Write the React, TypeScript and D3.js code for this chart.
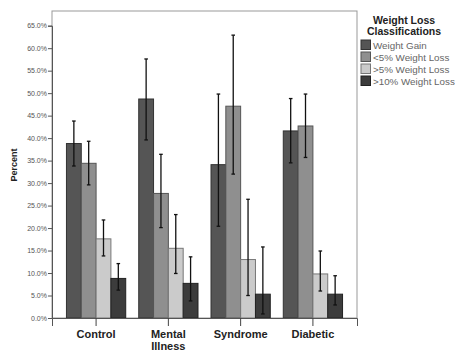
import { useEffect, useRef } from 'react';
import * as d3 from 'd3';

// ── data ──
const categories = ['Control', 'Mental Illness', 'Syndrome', 'Diabetic'];
const series = ['Weight Gain', '<5% Weight Loss', '>5% Weight Loss', '>10% Weight Loss'];
// values[series][category]
const weightGain   = [38.8, 48.7, 34.1, 41.6];
const loss5Under   = [34.4, 27.7, 47.1, 42.7];
const loss5Over    = [17.6, 15.5, 13.0, 9.8];
const loss10Over   = [8.8, 7.7, 5.3, 5.3];
const errHigh = [
  [43.8, 57.6, 49.8, 48.8],
  [39.3, 36.4, 62.9, 49.8],
  [21.8, 23.0, 26.4, 14.9],
  [12.1, 13.6, 15.8, 9.4],
];
const errLow = [
  [33.8, 39.6, 20.4, 34.5],
  [29.6, 20.1, 32.0, 35.7],
  [13.8, 9.9, 5.0, 6.0],
  [6.2, 3.8, 0.9, 2.9],
];
const yTicks = d3.range(0, 66, 5);

const fills   = ['#555555', '#8f8f8f', '#cbcbcb', '#3c3c3c'];
const strokes = ['#333333', '#555555', '#777777', '#222222'];
const font = 'Arial, "Liberation Sans", sans-serif';

export default function App() {
  const svgRef = useRef<SVGSVGElement>(null);

  useEffect(() => {
    if (!svgRef.current) return;
    const svg = d3.select(svgRef.current);
    svg.selectAll('*').remove();

    const W = 455, H = 352;
    const left = 52, right = 357, top = 11, bottom = 318;
    const values = [weightGain, loss5Under, loss5Over, loss10Over];

    svg.attr('width', W).attr('height', H);
    svg.append('rect').attr('width', W).attr('height', H).attr('fill', '#fff');

    const x0 = d3.scaleBand<string>().domain(categories).range([left, right]).paddingInner(0.18).paddingOuter(0.2);
    const x1 = d3.scaleBand<string>().domain(series).range([0, x0.bandwidth()]);
    const y = d3.scaleLinear().domain([0, 65]).range([bottom, 25.7]);

    // frame
    svg.append('rect').attr('x', left).attr('y', top).attr('width', right - left).attr('height', bottom - top)
      .attr('fill', 'none').attr('stroke', '#999').attr('stroke-width', 1);

    // bars
    series.forEach((s, si) => {
      const g = svg.append('g');
      g.selectAll('rect').data(categories).join('rect')
        .attr('x', c => x0(c)! + x1(s)!)
        .attr('y', (c, ci) => y(values[si][ci]))
        .attr('width', x1.bandwidth())
        .attr('height', (c, ci) => y(0) - y(values[si][ci]))
        .attr('fill', fills[si]).attr('stroke', strokes[si]).attr('stroke-width', 1);
    });

    // error bars
    series.forEach((s, si) => {
      const g = svg.append('g').attr('stroke', '#111').attr('stroke-width', 1.3);
      categories.forEach((c, ci) => {
        const cx = x0(c)! + x1(s)! + x1.bandwidth() / 2;
        g.append('line').attr('x1', cx).attr('x2', cx).attr('y1', y(errHigh[si][ci])).attr('y2', y(errLow[si][ci]));
        [errHigh[si][ci], errLow[si][ci]].forEach(v => {
          g.append('line').attr('x1', cx - 1.8).attr('x2', cx + 1.8).attr('y1', y(v)).attr('y2', y(v));
        });
      });
    });

    // y axis
    const yAxis = svg.append('g').attr('transform', `translate(${left},0)`)
      .call(d3.axisLeft(y).tickValues(yTicks).tickSize(4).tickFormat(d => `${(+d).toFixed(1)}%`));
    yAxis.select('.domain').attr('stroke', '#555');
    yAxis.selectAll('line').attr('stroke', '#555');
    yAxis.selectAll('text').attr('fill', '#555').attr('font-family', font).attr('font-size', 7).attr('x', -5);

    // x axis
    const xAxis = svg.append('g').attr('transform', `translate(0,${bottom})`)
      .call(d3.axisBottom(x0).tickSize(8).tickFormat(() => ''));
    xAxis.select('.domain').attr('stroke', '#555');
    xAxis.selectAll('line').attr('stroke', '#444');

    categories.forEach(c => {
      const lines = c.split(' ');
      const t = svg.append('text').attr('x', x0(c)! + x0.bandwidth() / 2).attr('y', 338)
        .attr('text-anchor', 'middle').attr('font-family', font).attr('font-size', 11)
        .attr('font-weight', 'bold').attr('fill', '#222');
      lines.forEach((l, i) => t.append('tspan').attr('x', x0(c)! + x0.bandwidth() / 2).attr('dy', i ? 11.5 : 0).text(l));
    });

    svg.append('text').attr('transform', 'rotate(-90)').attr('x', -165).attr('y', 17)
      .attr('text-anchor', 'middle').attr('font-family', font).attr('font-size', 9)
      .attr('font-weight', 'bold').attr('fill', '#222').text('Percent');

    // legend
    const lg = svg.append('g');
    lg.append('text').attr('x', 404).attr('y', 24).attr('text-anchor', 'middle').attr('font-family', font)
      .attr('font-size', 10.5).attr('font-weight', 'bold').attr('fill', '#222').text('Weight Loss');
    lg.append('text').attr('x', 404).attr('y', 35).attr('text-anchor', 'middle').attr('font-family', font)
      .attr('font-size', 10.5).attr('font-weight', 'bold').attr('fill', '#222').text('Classifications');
    series.forEach((s, i) => {
      const yy = 40 + i * 12;
      lg.append('rect').attr('x', 361).attr('y', yy).attr('width', 9.5).attr('height', 9.5)
        .attr('fill', fills[i]).attr('stroke', strokes[i]);
      lg.append('text').attr('x', 373).attr('y', yy + 8.5).attr('font-family', font).attr('font-size', 9.8)
        .attr('fill', '#666').text(s);
    });
  }, []);

  return <svg ref={svgRef} style={{ display: 'block', position: 'absolute', left: 0, top: 0 }} />;
}
